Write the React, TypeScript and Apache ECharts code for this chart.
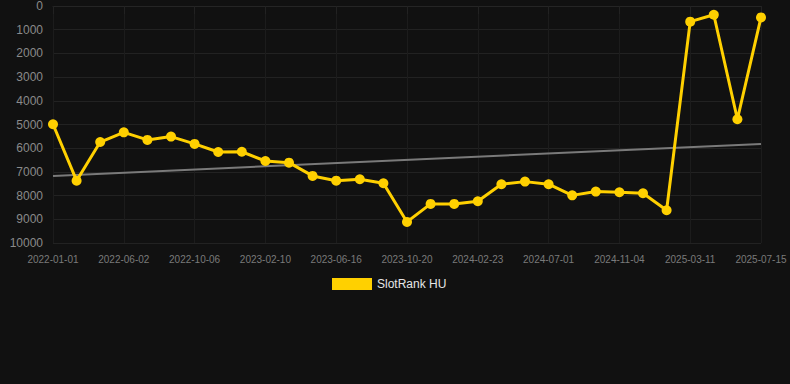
import React, { useEffect, useRef } from "react";
import * as echarts from "echarts";

const dates = [
  "2022-01-01", "2022-02-21", "2022-04-13", "2022-06-02", "2022-07-14", "2022-08-25",
  "2022-10-06", "2022-11-17", "2022-12-30", "2023-02-10", "2023-03-24", "2023-05-05",
  "2023-06-16", "2023-07-28", "2023-09-08", "2023-10-20", "2023-12-01", "2024-01-12",
  "2024-02-23", "2024-04-05", "2024-05-18", "2024-07-01", "2024-08-12", "2024-09-23",
  "2024-11-04", "2024-12-16", "2025-01-27", "2025-03-11", "2025-04-22", "2025-06-03",
  "2025-07-15",
];

const rankValues = [
  4990, 7370, 5740, 5330, 5650, 5510, 5820, 6160, 6150, 6540, 6610, 7170, 7370, 7310,
  7480, 9110, 8350, 8350, 8240, 7520, 7410, 7520, 7990, 7830, 7860, 7900, 8620, 660,
  370, 4780, 480,
];

const trendStart = 7170;
const trendEnd = 5820;

const seriesName = "SlotRank HU";

export default function App() {
  const ref = useRef<HTMLDivElement>(null);
  useEffect(() => {
    if (!ref.current) return;
    const chart = echarts.init(ref.current, undefined, { renderer: "svg" });
    const trend = dates.map((_, i) =>
      i === 0 ? trendStart : i === dates.length - 1 ? trendEnd : null
    );
    chart.setOption({
      animation: false,
      backgroundColor: "#111111",
      textStyle: { fontFamily: "Liberation Sans, Arial, sans-serif" },
      grid: { left: 53, right: 29, top: 6, bottom: 141 },
      legend: {
        data: [seriesName],
        top: 273,
        left: 327,
        icon: "rect",
        itemWidth: 40,
        itemHeight: 12,
        itemGap: 10,
        textStyle: { color: "#e6e6e6", fontSize: 12 },
      },
      xAxis: {
        type: "category",
        data: dates,
        boundaryGap: false,
        axisLine: { show: true, lineStyle: { color: "#252525" } },
        axisTick: { show: true, interval: 2, alignWithLabel: true, length: 8, lineStyle: { color: "#222" } },
        axisLabel: { interval: 2, color: "#7a7a7a", fontSize: 10, margin: 11 },
        splitLine: { show: true, interval: 2, lineStyle: { color: "#1c1c1c" } },
      },
      yAxis: {
        type: "value",
        inverse: true,
        min: 0,
        max: 10000,
        interval: 1000,
        axisLine: { show: false },
        axisTick: { show: false },
        axisLabel: {
          color: "#8a8a8a",
          fontSize: 12,
          margin: 10,
          formatter: (v: number) => String(v),
        },
        splitLine: { show: true, lineStyle: { color: "#222222" } },
      },
      series: [
        {
          name: "trend",
          type: "line",
          data: trend,
          connectNulls: true,
          showSymbol: false,
          symbol: "none",
          lineStyle: { color: "#7a7a7a", width: 2 },
          z: 1,
          silent: true,
        },
        {
          name: seriesName,
          type: "line",
          data: rankValues,
          symbol: "circle",
          symbolSize: 10,
          itemStyle: { color: "#ffd000" },
          lineStyle: { color: "#ffd000", width: 3 },
          z: 3,
        },
      ],
    });
    return () => chart.dispose();
  }, []);
  return (
    <div
      ref={ref}
      style={{ position: "fixed", left: 0, top: 0, width: 790, height: 384 }}
    />
  );
}
